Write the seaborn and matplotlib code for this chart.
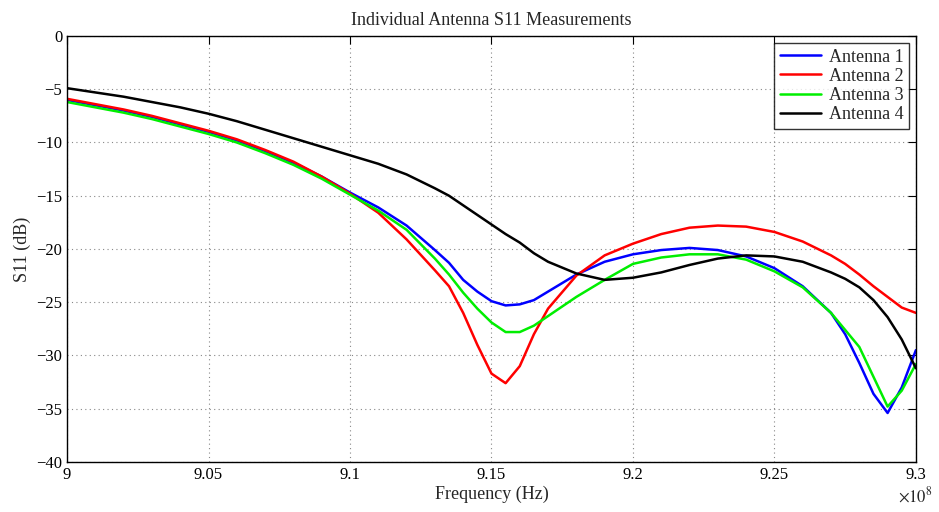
import numpy as np
import pandas as pd
import matplotlib
matplotlib.use("Agg")
import matplotlib.pyplot as plt
import seaborn as sns

# Frequency points in MHz
freq_mhz = [900, 901, 902, 903, 904, 905, 906, 907, 908, 909, 910, 911, 912, 913, 913.5,
            914, 914.5, 915, 915.5, 916, 916.5, 917, 918, 919, 920, 921, 922, 923, 924,
            925, 926, 927, 927.5, 928, 928.5, 929, 929.5, 930]

# S11 values (dB)
antenna_1 = [-6.0, -6.5, -7.0, -7.6, -8.3, -9.0, -9.8, -10.8, -11.9, -13.2, -14.7, -16.1, -17.8,
             -20.1, -21.3, -22.9, -24.0, -24.9, -25.3, -25.2, -24.8, -24.0, -22.4, -21.2, -20.5,
             -20.1, -19.9, -20.1, -20.7, -21.8, -23.5, -26.0, -28.0, -30.7, -33.6, -35.4, -33.0, -29.5]
antenna_2 = [-5.9, -6.4, -6.9, -7.5, -8.2, -8.9, -9.7, -10.7, -11.8, -13.2, -14.8, -16.6, -19.1,
             -22.0, -23.5, -26.0, -29.0, -31.7, -32.6, -31.0, -28.0, -25.6, -22.5, -20.6, -19.5,
             -18.6, -18.0, -17.8, -17.9, -18.4, -19.3, -20.6, -21.4, -22.4, -23.5, -24.5, -25.5, -26.0]
antenna_3 = [-6.2, -6.7, -7.2, -7.8, -8.5, -9.2, -10.0, -11.0, -12.1, -13.4, -14.9, -16.4, -18.2,
             -20.9, -22.4, -24.1, -25.6, -26.9, -27.8, -27.8, -27.2, -26.3, -24.5, -22.9, -21.4,
             -20.8, -20.5, -20.5, -21.0, -22.1, -23.6, -26.0, -27.6, -29.2, -32.0, -34.8, -33.3, -30.8]
antenna_4 = [-4.9, -5.3, -5.7, -6.2, -6.7, -7.3, -8.0, -8.8, -9.6, -10.4, -11.2, -12.0, -13.0,
             -14.3, -15.0, -15.9, -16.8, -17.7, -18.6, -19.4, -20.4, -21.2, -22.3, -22.9, -22.7,
             -22.2, -21.5, -20.9, -20.6, -20.7, -21.2, -22.2, -22.8, -23.6, -24.8, -26.4, -28.5, -31.2]

names = ["Antenna 1", "Antenna 2", "Antenna 3", "Antenna 4"]
colors = {"Antenna 1": "#0000ff", "Antenna 2": "#ff0000",
          "Antenna 3": "#00ee00", "Antenna 4": "#000000"}

x_ticks = [9.0e8, 9.05e8, 9.1e8, 9.15e8, 9.2e8, 9.25e8, 9.3e8]
x_tick_labels = ["9", "9.05", "9.1", "9.15", "9.2", "9.25", "9.3"]
y_ticks = [0, -5, -10, -15, -20, -25, -30, -35, -40]

# Long format table for seaborn
frames = []
for name, vals in zip(names, [antenna_1, antenna_2, antenna_3, antenna_4]):
    frames.append(pd.DataFrame({"Frequency": np.array(freq_mhz) * 1e6,
                                "S11": vals, "Antenna": name}))
df = pd.concat(frames, ignore_index=True)

sns.set_style("white")
plt.rcParams["font.family"] = ["Liberation Serif", "DejaVu Serif"]
plt.rcParams["mathtext.fontset"] = "stix"
plt.rcParams["axes.unicode_minus"] = True

fig = plt.figure(figsize=(9.39, 5.12), dpi=100)
ax = fig.add_axes([0.0714, 0.0977, 0.904, 0.832])

sns.lineplot(data=df, x="Frequency", y="S11", hue="Antenna", palette=colors,
             estimator=None, sort=True, linewidth=1.8, ax=ax)

ax.set_xlim(9.0e8, 9.3e8)
ax.set_ylim(-40, 0)
ax.set_xticks(x_ticks)
ax.set_xticklabels(x_tick_labels)
ax.set_yticks(y_ticks)
ax.grid(True, linestyle=(0, (1, 3)), color="#888888", linewidth=0.8)
ax.tick_params(direction="in", top=True, right=True, length=6, width=0.8,
               labelsize=12, colors="black")
for s in ax.spines.values():
    s.set_color("black")
    s.set_linewidth(1.0)

ax.set_xlabel("Frequency (Hz)", fontsize=13, labelpad=2)
ax.set_ylabel("S11 (dB)", fontsize=13, labelpad=4)
ax.set_title("Individual Antenna S11 Measurements", fontsize=13, pad=8)
ax.text(1.02, -0.08, r"$\times10^{8}$", transform=ax.transAxes, ha="right",
        va="center", fontsize=12)

leg = ax.legend(loc="upper right", fontsize=13, frameon=True, fancybox=False,
                edgecolor="black", borderaxespad=0.4, handlelength=2.3,
                labelspacing=0.12, borderpad=0.3, handletextpad=0.4)
leg.get_frame().set_linewidth(1.0)
leg.set_title(None)

fig.savefig("out.png", dpi=100)
